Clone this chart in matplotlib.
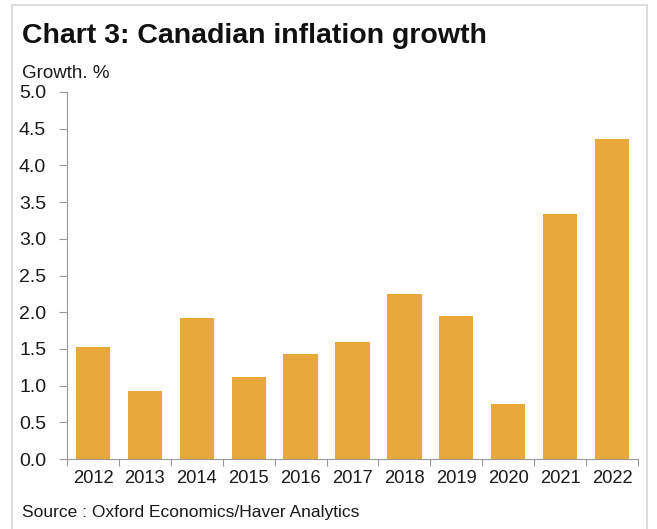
import matplotlib

matplotlib.use("Agg")
import matplotlib.pyplot as plt
from matplotlib.lines import Line2D

plt.rcParams.update({"font.family": ["Liberation Sans", "DejaVu Sans"]})

years = ["2012", "2013", "2014", "2015", "2016", "2017", "2018", "2019", "2020", "2021", "2022"]
growth = [1.53, 0.93, 1.92, 1.12, 1.43, 1.59, 2.25, 1.95, 0.75, 3.34, 4.36]
yticks = [0.0, 0.5, 1.0, 1.5, 2.0, 2.5, 3.0, 3.5, 4.0, 4.5, 5.0]

W, H = 657, 529
fig = plt.figure(figsize=(W / 100, H / 100), dpi=100)
ax = fig.add_axes([67 / W, 1 - 459 / H, (638 - 67) / W, (459 - 92) / H])

x = list(range(len(years)))
ax.bar(x, growth, width=0.66, color="#E8A83C")

ax.set_xlim(-0.5, len(years) - 0.5)
ax.set_ylim(0, 5)
ax.set_yticks(yticks)
ax.set_yticklabels([f"{v:.1f}" for v in yticks], fontsize=14, color="#1a1a1a")

# year labels centred on bars, tick marks between bars
ax.set_xticks([i - 0.5 for i in range(len(years) + 1)])
ax.set_xticklabels([])
ax.set_xticks(x, minor=True)
ax.set_xticklabels(years, minor=True, fontsize=13.2, color="#1a1a1a")
ax.tick_params(axis="x", which="minor", length=0, pad=8)
ax.tick_params(axis="x", which="major", length=5, color="#999999", direction="out")
ax.tick_params(axis="y", length=6, color="#999999", pad=9)

for s in ["top", "right"]:
    ax.spines[s].set_visible(False)
ax.spines["left"].set_color("#999999")
ax.spines["bottom"].set_color("#999999")

fig.text(22 / W, 1 - 36 / H, "Chart 3: Canadian inflation growth", fontsize=20.5,
         fontweight="bold", va="center", ha="left", color="#111111")
fig.text(22 / W, 1 - 74 / H, "Growth. %", fontsize=13.5, va="center", ha="left", color="#1a1a1a")
fig.text(22 / W, 1 - 513 / H, "Source : Oxford Economics/Haver Analytics", fontsize=12.5,
         va="center", ha="left", color="#1a1a1a")

# light frame round the panel
frame = "#dddddd"
fig.add_artist(Line2D([12 / W, 647 / W], [1 - 5 / H, 1 - 5 / H], color=frame, lw=1.5))
fig.add_artist(Line2D([12 / W, 12 / W], [0, 1 - 5 / H], color=frame, lw=1.5))
fig.add_artist(Line2D([647 / W, 647 / W], [0, 1 - 5 / H], color=frame, lw=1.5))

fig.savefig("out.png", dpi=100)
